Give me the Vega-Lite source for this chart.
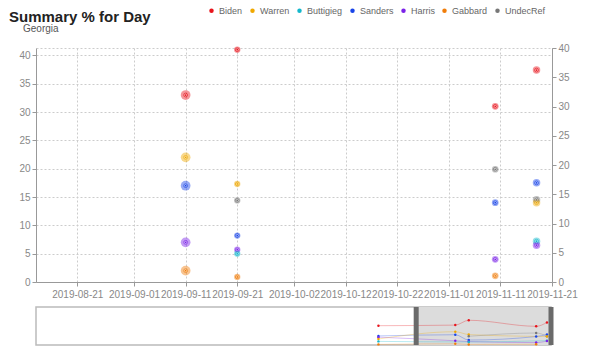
{
  "$schema": "https://vega.github.io/schema/vega-lite/v6.json",
  "padding": {"left": 5, "right": 5, "top": 6, "bottom": 5},
  "bounds": "flush",
  "spacing": 25,
  "title": {"text": "Summary % for Day", "anchor": "start", "frame": "group", "dx": -27, "fontSize": 15, "fontWeight": "bold", "color": "#222", "offset": -18.5},
  "config": {
    "font": "Liberation Sans",
    "axis": {"labelColor": "#888", "labelFontSize": 10, "tickColor": "#999", "domainColor": "#999", "tickSize": 4, "gridColor": "#ccc", "gridDash": [2, 2], "title": null}
  },
  "datasets": {
    "polls": [
      {"date": "2019-07-16T00:00:00", "cand": "Biden", "pct": 32, "n": 400},
      {"date": "2019-07-16T00:00:00", "cand": "Sanders", "pct": 15, "n": 400},
      {"date": "2019-07-16T00:00:00", "cand": "Harris", "pct": 13, "n": 400},
      {"date": "2019-07-16T00:00:00", "cand": "Warren", "pct": 10, "n": 400},
      {"date": "2019-07-16T00:00:00", "cand": "Buttigieg", "pct": 6, "n": 400},
      {"date": "2019-07-16T00:00:00", "cand": "Gabbard", "pct": 1, "n": 400},
      {"date": "2019-09-11T00:00:00", "cand": "Biden", "pct": 33, "n": 800},
      {"date": "2019-09-11T00:00:00", "cand": "Warren", "pct": 22, "n": 800},
      {"date": "2019-09-11T00:00:00", "cand": "Sanders", "pct": 17, "n": 800},
      {"date": "2019-09-11T00:00:00", "cand": "Harris", "pct": 7, "n": 800},
      {"date": "2019-09-11T00:00:00", "cand": "Gabbard", "pct": 2, "n": 800},
      {"date": "2019-09-21T00:00:00", "cand": "Biden", "pct": 41, "n": 300},
      {"date": "2019-09-21T00:00:00", "cand": "Warren", "pct": 17.3, "n": 300},
      {"date": "2019-09-21T00:00:00", "cand": "UndecRef", "pct": 14.4, "n": 300},
      {"date": "2019-09-21T00:00:00", "cand": "Sanders", "pct": 8.2, "n": 300},
      {"date": "2019-09-21T00:00:00", "cand": "Harris", "pct": 5.7, "n": 300},
      {"date": "2019-09-21T00:00:00", "cand": "Buttigieg", "pct": 5, "n": 300},
      {"date": "2019-09-21T00:00:00", "cand": "Gabbard", "pct": 0.9, "n": 300},
      {"date": "2019-11-10T00:00:00", "cand": "Biden", "pct": 31, "n": 350},
      {"date": "2019-11-10T00:00:00", "cand": "UndecRef", "pct": 19.9, "n": 350},
      {"date": "2019-11-10T00:00:00", "cand": "Sanders", "pct": 14, "n": 350},
      {"date": "2019-11-10T00:00:00", "cand": "Harris", "pct": 4, "n": 350},
      {"date": "2019-11-10T00:00:00", "cand": "Gabbard", "pct": 1.1, "n": 350},
      {"date": "2019-11-18T00:00:00", "cand": "Biden", "pct": 37.4, "n": 450},
      {"date": "2019-11-18T00:00:00", "cand": "Sanders", "pct": 17.5, "n": 450},
      {"date": "2019-11-18T00:00:00", "cand": "UndecRef", "pct": 14.5, "n": 450},
      {"date": "2019-11-18T00:00:00", "cand": "Warren", "pct": 14, "n": 450},
      {"date": "2019-11-18T00:00:00", "cand": "Buttigieg", "pct": 7.2, "n": 450},
      {"date": "2019-11-18T00:00:00", "cand": "Harris", "pct": 6.5, "n": 450}
    ],
    "win": [{"start": "2019-08-13T00:00:00", "end": "2019-11-21T00:00:00"}]
  },
  "vconcat": [
    {
      "width": 516,
      "height": 234,
      "title": {"text": "Georgia", "anchor": "start", "frame": "group", "dx": -13, "fontSize": 10, "fontWeight": "normal", "color": "#555", "offset": 9.5},
      "view": {"stroke": "#ccc", "strokeDash": [2, 2]},
      "data": {"name": "polls"},
      "transform": [{"filter": {"field": "date", "gte": {"year": 2019, "month": 8, "date": 13}}}],
      "layer": [
        {
          "encoding": {
            "x": {"field": "date", "type": "temporal",
              "scale": {"domain": [{"year": 2019, "month": 8, "date": 13}, {"year": 2019, "month": 11, "date": 21}]},
              "axis": {"format": "%Y-%m-%d", "labelFlush": false, "labelOverlap": false, "grid": true, "labelPadding": 3,
                "values": [{"year": 2019, "month": 8, "date": 21}, {"year": 2019, "month": 9, "date": 1}, {"year": 2019, "month": 9, "date": 11}, {"year": 2019, "month": 9, "date": 21}, {"year": 2019, "month": 10, "date": 2}, {"year": 2019, "month": 10, "date": 12}, {"year": 2019, "month": 10, "date": 22}, {"year": 2019, "month": 11, "date": 1}, {"year": 2019, "month": 11, "date": 11}, {"year": 2019, "month": 11, "date": 21}]}},
            "y": {"field": "pct", "type": "quantitative", "scale": {"domain": [0, 41.3], "nice": false},
              "axis": {"values": [0, 5, 10, 15, 20, 25, 30, 35, 40], "grid": true, "minExtent": 30, "maxExtent": 30}}
          },
          "layer": [
            {"mark": {"type": "circle", "opacity": 0.45},
              "encoding": {
                "color": {"field": "cand", "type": "nominal",
                  "scale": {"domain": ["Biden", "Warren", "Buttigieg", "Sanders", "Harris", "Gabbard", "UndecRef"], "range": ["#e8141c", "#f0a800", "#14b8cc", "#1844e8", "#7b22e8", "#f07d0a", "#777777"]},
                  "legend": {"orient": "none", "direction": "horizontal", "legendX": 171, "legendY": -42, "title": null, "symbolType": "circle", "symbolSize": 20, "labelFontSize": 9, "labelColor": "#666", "columnPadding": 5, "labelOffset": 3, "symbolStrokeWidth": 0, "symbolOpacity": 1}},
                "size": {"field": "n", "type": "quantitative", "scale": {"domain": [300, 800], "range": [40, 95]}, "legend": null}}},
            {"mark": {"type": "circle", "size": 14, "strokeWidth": 1},
              "encoding": {
                "fill": {"value": "white"},
                "fillOpacity": {"value": 0.7},
                "stroke": {"field": "cand", "type": "nominal", "legend": null,
                  "scale": {"domain": ["Biden", "Warren", "Buttigieg", "Sanders", "Harris", "Gabbard", "UndecRef"], "range": ["#e8141c", "#f0a800", "#14b8cc", "#1844e8", "#7b22e8", "#f07d0a", "#777777"]}}}},
            {"mark": {"type": "circle", "size": 3, "opacity": 1},
              "encoding": {"color": {"field": "cand", "type": "nominal"}}}
          ]
        },
        {
          "mark": {"type": "point", "opacity": 0, "clip": true},
          "encoding": {
            "x": {"field": "date", "type": "temporal"},
            "y": {"field": "pct", "type": "quantitative", "scale": {"domain": [0, 40], "nice": false},
              "axis": {"orient": "right", "values": [0, 5, 10, 15, 20, 25, 30, 35, 40], "grid": false}}
          }
        }
      ],
      "resolve": {"scale": {"y": "independent"}}
    },
    {
      "width": 515,
      "height": 38,
      "view": {"stroke": "#bbb", "strokeWidth": 1.5},
      "layer": [
        {"data": {"name": "win"}, "mark": {"type": "rect", "color": "#dcdcdc", "opacity": 1},
          "encoding": {"x": {"field": "start", "type": "temporal", "scale": {"domain": [{"year": 2018, "month": 11, "date": 4}, {"year": 2019, "month": 11, "date": 21}]}, "axis": null},
            "x2": {"field": "end"}}},
        {"data": {"name": "polls"}, "mark": {"type": "line", "interpolate": "monotone", "strokeWidth": 1, "opacity": 0.3},
          "encoding": {"x": {"field": "date", "type": "temporal"},
            "y": {"field": "pct", "type": "quantitative", "scale": {"domain": [0, 63], "nice": false}, "axis": null},
            "color": {"field": "cand", "type": "nominal"}}},
        {"data": {"name": "polls"}, "mark": {"type": "circle", "size": 6, "opacity": 1},
          "encoding": {"x": {"field": "date", "type": "temporal"},
            "y": {"field": "pct", "type": "quantitative"},
            "color": {"field": "cand", "type": "nominal"}}},
        {"data": {"name": "win"}, "mark": {"type": "rule", "strokeWidth": 5, "color": "#6a6a6a"},
          "encoding": {"x": {"field": "start", "type": "temporal"}}},
        {"data": {"name": "win"}, "mark": {"type": "rule", "strokeWidth": 5, "color": "#6a6a6a"},
          "encoding": {"x": {"field": "end", "type": "temporal"}}}
      ]
    }
  ]
}
